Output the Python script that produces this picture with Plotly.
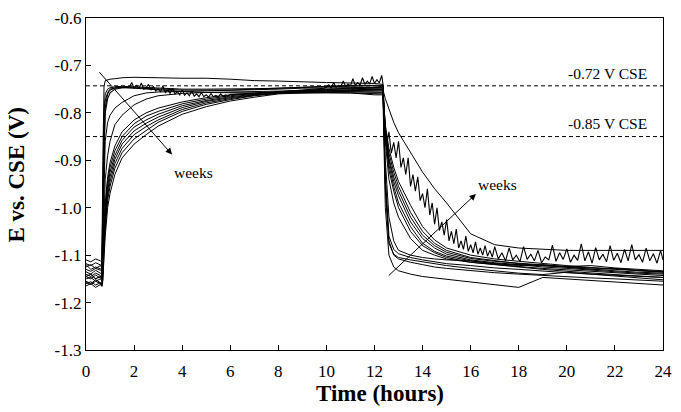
import plotly.graph_objects as go

# ---------------- data ----------------
HOURS = [0, 0.2, 0.4, 0.6, 0.66, 0.7, 0.75, 0.8, 0.9, 1.0, 1.2, 1.5, 2.0, 2.5, 3.0,
         4, 5, 6, 7, 8, 9, 10, 11, 12,
         12.35, 12.45, 12.6, 12.8, 13.0, 13.5, 14, 14.5, 15, 16, 17, 18, 19, 20, 21, 22, 23, 24]

week_a = [-1.118, -1.122, -1.116, -1.12, -1.122,
          -0.90, -0.745, -0.732, -0.73, -0.729, -0.728, -0.726, -0.725, -0.725, -0.726,
          -0.727, -0.727, -0.729, -0.732, -0.733, -0.735, -0.736, -0.737, -0.738,
          -0.74, -0.96, -1.07, -1.10, -1.108, -1.115, -1.12, -1.125, -1.128, -1.133,
          -1.137, -1.14, -1.143, -1.146, -1.148, -1.15, -1.152, -1.155]
week_b = [-1.13, -1.134, -1.128, -1.132, -1.135,
          -1.0, -0.80, -0.76, -0.75, -0.747, -0.745, -0.744, -0.745, -0.746, -0.748,
          -0.75, -0.75, -0.75, -0.749, -0.748, -0.746, -0.745, -0.744, -0.743,
          -0.745, -0.93, -1.06, -1.088, -1.097, -1.105, -1.11, -1.114, -1.118, -1.122,
          -1.127, -1.13, -1.134, -1.137, -1.14, -1.142, -1.145, -1.147]
week_c = [-1.158, -1.162, -1.155, -1.16, -1.165,
          -1.05, -0.88, -0.79, -0.76, -0.752, -0.748, -0.747, -0.748, -0.75, -0.752,
          -0.755, -0.757, -0.758, -0.758, -0.758, -0.758, -0.757, -0.758, -0.762,
          -0.762, -1.0, -1.1, -1.125, -1.133, -1.14, -1.145, -1.148, -1.151, -1.156,
          -1.162, -1.168, -1.147, -1.15, -1.153, -1.157, -1.16, -1.163]
week_d = [-1.11, -1.114, -1.108, -1.112, -1.115,
          -0.98, -0.83, -0.775, -0.757, -0.75, -0.747, -0.746, -0.747, -0.749, -0.75,
          -0.752, -0.752, -0.752, -0.75, -0.748, -0.745, -0.743, -0.742, -0.742,
          -0.742, -0.95, -1.075, -1.098, -1.105, -1.11, -1.114, -1.118, -1.122, -1.128,
          -1.133, -1.138, -1.141, -1.136, -1.14, -1.144, -1.148, -1.152]
week_e = [-1.14, -1.145, -1.138, -1.143, -1.147,
          -1.06, -0.93, -0.86, -0.82, -0.805, -0.79, -0.778, -0.764, -0.758, -0.756,
          -0.755, -0.754, -0.753, -0.752, -0.75, -0.748, -0.747, -0.746, -0.746,
          -0.746, -0.86, -0.94, -0.99, -1.02, -1.065, -1.09, -1.1, -1.108, -1.115,
          -1.12, -1.124, -1.128, -1.131, -1.134, -1.137, -1.14, -1.143]
week_f = [-1.16, -1.156, -1.163, -1.158, -1.164,
          -1.1, -1.0, -0.94, -0.89, -0.86, -0.825, -0.805, -0.783, -0.771, -0.764,
          -0.759, -0.757, -0.756, -0.755, -0.754, -0.752, -0.751, -0.75, -0.75,
          -0.75, -0.85, -0.92, -0.965, -1.0, -1.05, -1.08, -1.095, -1.105, -1.115,
          -1.12, -1.126, -1.13, -1.134, -1.138, -1.141, -1.144, -1.147]
week_g = [-1.125, -1.12, -1.128, -1.122, -1.127,
          -1.12, -1.04, -0.99, -0.935, -0.905, -0.87, -0.84, -0.815, -0.80, -0.79,
          -0.777, -0.768, -0.762, -0.758, -0.755, -0.752, -0.75, -0.748, -0.746,
          -0.746, -0.84, -0.90, -0.945, -0.975, -1.03, -1.065, -1.085, -1.098, -1.11,
          -1.116, -1.12, -1.125, -1.128, -1.132, -1.135, -1.138, -1.14]
week_h = [-1.135, -1.14, -1.132, -1.138, -1.14,
          -1.13, -1.05, -1.0, -0.945, -0.915, -0.88, -0.85, -0.823, -0.807, -0.797,
          -0.781, -0.771, -0.764, -0.759, -0.756, -0.753, -0.751, -0.749, -0.748,
          -0.748, -0.83, -0.885, -0.925, -0.955, -1.01, -1.05, -1.075, -1.09, -1.105,
          -1.112, -1.118, -1.122, -1.126, -1.13, -1.133, -1.136, -1.138]
week_i = [-1.145, -1.15, -1.142, -1.148, -1.15,
          -1.135, -1.06, -1.01, -0.955, -0.925, -0.89, -0.858, -0.83, -0.815, -0.803,
          -0.785, -0.774, -0.766, -0.761, -0.757, -0.755, -0.753, -0.752, -0.751,
          -0.751, -0.77, -0.793, -0.82, -0.842, -0.885, -0.925, -0.96, -0.99, -1.055,
          -1.078, -1.085, -1.088, -1.09, -1.09, -1.09, -1.09, -1.09]
week_j = [-1.15, -1.147, -1.155, -1.15, -1.155,
          -1.14, -1.07, -1.02, -0.965, -0.935, -0.898, -0.866, -0.838, -0.822, -0.809,
          -0.789, -0.776, -0.768, -0.762, -0.758, -0.755, -0.754, -0.753, -0.752,
          -0.752, -0.845, -0.91, -0.955, -0.99, -1.04, -1.075, -1.092, -1.102, -1.112,
          -1.118, -1.122, -1.12, -1.125, -1.13, -1.128, -1.133, -1.136]
week_k = [-1.12, -1.13, -1.125, -1.128, -1.13,
          -1.12, -1.08, -1.03, -0.975, -0.945, -0.907, -0.875, -0.846, -0.829, -0.815,
          -0.793, -0.779, -0.77, -0.763, -0.758, -0.756, -0.755, -0.754, -0.754,
          -0.754, -0.835, -0.895, -0.935, -0.965, -1.02, -1.058, -1.08, -1.094, -1.107,
          -1.113, -1.117, -1.121, -1.124, -1.122, -1.127, -1.13, -1.133]
week_l = [-1.165, -1.16, -1.168, -1.162, -1.166,
          -1.155, -1.09, -1.045, -0.985, -0.955, -0.917, -0.884, -0.855, -0.837, -0.82,
          -0.797, -0.782, -0.772, -0.764, -0.759, -0.757, -0.756, -0.756, -0.757,
          -0.757, -0.90, -1.02, -1.07, -1.09, -1.1, -1.105, -1.108, -1.11, -1.112,
          -1.118, -1.12, -1.122, -1.125, -1.127, -1.13, -1.132, -1.135]
week_m = [-1.155, -1.16, -1.152, -1.158, -1.16,
          -1.15, -1.10, -1.06, -1.0, -0.97, -0.93, -0.895, -0.866, -0.846, -0.828,
          -0.803, -0.787, -0.775, -0.767, -0.76, -0.758, -0.757, -0.758, -0.76,
          -0.76, -0.825, -0.875, -0.915, -0.945, -0.995, -1.04, -1.068, -1.085, -1.1,
          -1.108, -1.113, -1.118, -1.122, -1.126, -1.129, -1.132, -1.135]

SMOOTH_WEEKS = [week_a, week_b, week_c, week_d, week_e, week_f, week_g,
                week_h, week_i, week_j, week_k, week_l, week_m]

# the noisy record
NOISY_HOURS = [0, 0.2, 0.4, 0.6, 0.66, 0.7, 0.75, 0.8, 0.9, 1.0, 1.2, 1.5, 1.8,
               1.9, 2.0, 2.1, 2.2, 2.3, 2.4, 2.5, 2.6, 2.7, 2.8, 2.9,
               3.0, 3.1, 3.2, 3.3, 3.4, 3.5, 3.6, 3.7, 3.8, 3.9,
               4.0, 4.1, 4.2, 4.3, 4.4, 4.5, 4.6, 4.7, 4.8, 4.9,
               5.0, 5.1, 5.2, 5.3, 5.4, 5.5, 5.6, 5.7, 5.8, 5.9, 6.0,
               7, 8, 9, 9.9,
               10.0, 10.1, 10.2, 10.3, 10.4, 10.5, 10.6, 10.7, 10.8, 10.9,
               11.0, 11.1, 11.2, 11.3, 11.4, 11.5, 11.6, 11.7, 11.8, 11.9,
               12.0, 12.1, 12.2, 12.3,
               12.35, 12.4, 12.45,
               12.5, 12.6, 12.7, 12.8, 12.9, 13.0, 13.1, 13.2, 13.3, 13.4,
               13.5, 13.6, 13.7, 13.8, 13.9, 14.0, 14.1, 14.2, 14.3, 14.4,
               14.5, 14.6, 14.7, 14.8, 14.9, 15.0, 15.1, 15.2, 15.3, 15.4,
               15.5, 15.6, 15.7, 15.8, 15.9, 16.0, 16.1, 16.2, 16.3, 16.4,
               16.5, 16.6, 16.7, 16.8, 16.9, 17.0,
               17.15, 17.3, 17.45, 17.6, 17.75, 17.9, 18.05, 18.2, 18.35, 18.5,
               18.65, 18.8, 18.95, 19.1, 19.25, 19.4, 19.55, 19.7, 19.85, 20.0,
               20.15, 20.3, 20.45, 20.6, 20.75, 20.9, 21.05, 21.2, 21.35, 21.5,
               21.65, 21.8, 21.95, 22.1, 22.25, 22.4, 22.55, 22.7, 22.85, 23.0,
               23.15, 23.3, 23.45, 23.6, 23.75, 23.9, 24.0]
NOISY_E = [-1.145, -1.14, -1.15, -1.145, -1.15, -0.98, -0.86, -0.80, -0.77, -0.758, -0.75, -0.747, -0.746,
           -0.736, -0.748, -0.742, -0.749, -0.737, -0.750, -0.747, -0.740, -0.752, -0.744, -0.754,
           -0.749, -0.756, -0.743, -0.757, -0.752, -0.759, -0.748, -0.760, -0.755, -0.762,
           -0.751, -0.763, -0.758, -0.764, -0.754, -0.765, -0.760, -0.766, -0.757, -0.766,
           -0.762, -0.767, -0.759, -0.766, -0.763, -0.766, -0.760, -0.765, -0.762, -0.765, -0.761,
           -0.76, -0.756, -0.752, -0.748,
           -0.746, -0.741, -0.748, -0.736, -0.746, -0.742, -0.745, -0.733, -0.744, -0.739,
           -0.743, -0.728, -0.742, -0.736, -0.741, -0.726, -0.740, -0.733, -0.739, -0.723,
           -0.738, -0.730, -0.737, -0.721,
           -0.738, -0.80, -0.84,
           -0.870, -0.840, -0.885, -0.862, -0.895, -0.860, -0.915, -0.895, -0.930, -0.895,
           -0.955, -0.930, -0.965, -0.935, -0.985, -0.970, -1.000, -0.960, -1.015, -0.990,
           -1.035, -1.000, -1.048, -1.030, -1.058, -1.025, -1.070, -1.050, -1.076, -1.045,
           -1.085, -1.070, -1.088, -1.060, -1.092, -1.078, -1.095, -1.072, -1.098, -1.085,
           -1.100, -1.080, -1.102, -1.090, -1.104, -1.082,
           -1.108, -1.095, -1.112, -1.085, -1.110, -1.100, -1.114, -1.082, -1.109, -1.098,
           -1.112, -1.090, -1.116, -1.104, -1.110, -1.079, -1.113, -1.095, -1.109, -1.087,
           -1.115, -1.100, -1.111, -1.076, -1.112, -1.093, -1.117, -1.084, -1.110, -1.098,
           -1.114, -1.080, -1.111, -1.096, -1.116, -1.088, -1.112, -1.078, -1.110, -1.099,
           -1.115, -1.085, -1.112, -1.097, -1.117, -1.090, -1.110]

X_TICKS = [0, 2, 4, 6, 8, 10, 12, 14, 16, 18, 20, 22, 24]
Y_TICKS = [-1.3, -1.2, -1.1, -1.0, -0.9, -0.8, -0.7, -0.6]
Y_TICK_TEXT = ["-1.3", "-1.2", "-1.1", "-1.0", "-0.9", "-0.8", "-0.7", "-0.6"]

LIMIT_LEVELS = [-0.743, -0.85]
LIMIT_LABELS = ["-0.72 V CSE", "-0.85 V CSE"]
LIMIT_LABEL_Y = [-0.718, -0.823]

# ---------------- figure ----------------
SERIF = "Liberation Serif, Times New Roman, serif"
fig = go.Figure()
for w in SMOOTH_WEEKS:
    fig.add_trace(go.Scatter(x=HOURS, y=w, mode="lines",
                             line=dict(color="black", width=1), hoverinfo="skip"))
fig.add_trace(go.Scatter(x=NOISY_HOURS, y=NOISY_E, mode="lines",
                         line=dict(color="black", width=1.1), hoverinfo="skip"))

for lvl in LIMIT_LEVELS:
    fig.add_shape(type="line", xref="x", yref="y", x0=0, x1=24, y0=lvl, y1=lvl,
                  line=dict(color="black", width=1, dash="4px,3px"))
for txt, yy in zip(LIMIT_LABELS, LIMIT_LABEL_Y):
    fig.add_annotation(x=23.4, y=yy, xref="x", yref="y", text=txt, showarrow=False,
                       xanchor="right", yanchor="middle",
                       font=dict(family=SERIF, size=15.5, color="black"))

# "weeks" arrows
fig.add_annotation(x=3.58, y=-0.888, ax=0.5, ay=-0.711, xref="x", yref="y",
                   axref="x", ayref="y", text="", showarrow=True,
                   arrowhead=2, arrowsize=1.3, arrowwidth=1, arrowcolor="black")
fig.add_annotation(x=16.22, y=-0.971, ax=12.53, ay=-1.146, xref="x", yref="y",
                   axref="x", ayref="y", text="", showarrow=True,
                   arrowhead=2, arrowsize=1.3, arrowwidth=1, arrowcolor="black")
fig.add_annotation(x=4.47, y=-0.925, xref="x", yref="y", text="weeks", showarrow=False,
                   font=dict(family=SERIF, size=15.5, color="black"))
fig.add_annotation(x=17.1, y=-0.951, xref="x", yref="y", text="weeks", showarrow=False,
                   font=dict(family=SERIF, size=15.5, color="black"))

# axis titles
fig.add_annotation(x=0.51, y=-0.132, xref="paper", yref="paper", text="<b>Time (hours)</b>",
                   showarrow=False, xanchor="center", yanchor="middle",
                   font=dict(family=SERIF, size=23, color="black"))
fig.add_annotation(x=-0.121, y=0.526, xref="paper", yref="paper", text="<b>E vs. CSE (V)</b>",
                   showarrow=False, xanchor="center", yanchor="middle", textangle=-90,
                   font=dict(family=SERIF, size=23, color="black"))

axis_common = dict(showgrid=False, zeroline=False, showline=True, linecolor="black",
                   linewidth=1.3, mirror=True, ticks="inside", ticklen=5, tickwidth=1,
                   tickcolor="black", tickfont=dict(family=SERIF, size=17, color="black"))
fig.update_xaxes(range=[0, 24], tickvals=X_TICKS, ticklabelstandoff=5, **axis_common)
fig.update_yaxes(range=[-1.3, -0.6], tickvals=Y_TICKS, ticktext=Y_TICK_TEXT, **axis_common)

fig.update_layout(width=681, height=412, margin=dict(l=86, r=9, t=10, b=62),
                  plot_bgcolor="white", paper_bgcolor="white", showlegend=False,
                  font=dict(family=SERIF, color="black"))

fig.write_html("out.html")
